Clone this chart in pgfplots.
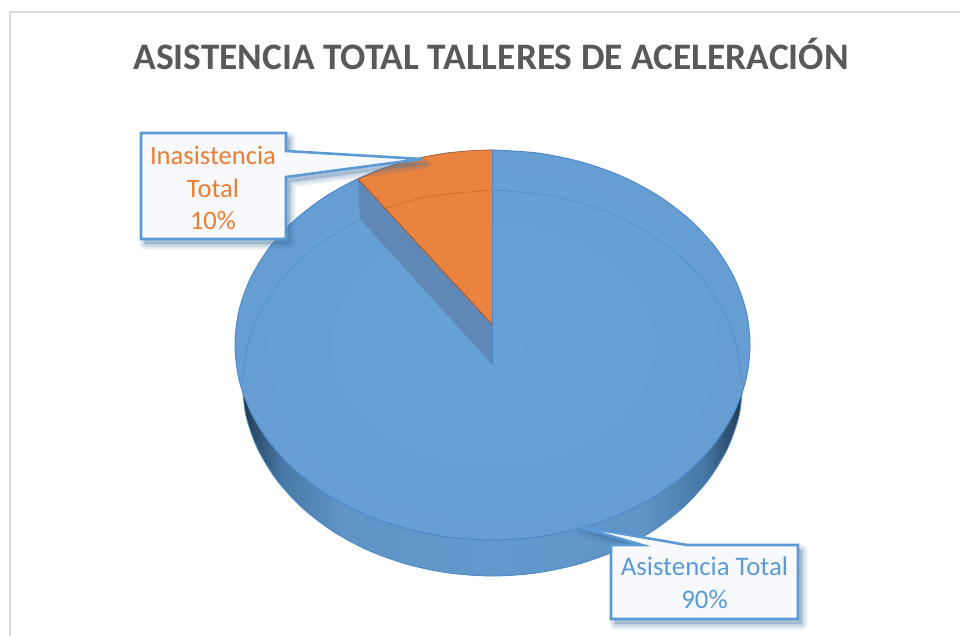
\documentclass[border=0pt]{standalone}
\usepackage{fontspec}
\setmainfont{Carlito}
\usepackage{pgfplots}
\usepackage{pgfplotstable}
\pgfplotsset{compat=1.18}

\definecolor{serieAzul}{HTML}{5B9BD5}
\definecolor{serieNaranja}{HTML}{ED7D31}
\definecolor{caraAzul}{HTML}{669FD4}
\definecolor{caraCentro}{HTML}{66A2D6}
\definecolor{caraFuera}{HTML}{669ED4}
\definecolor{caraNaranja}{HTML}{E9833F}
\definecolor{bordeAzul}{HTML}{4A8AC9}
\definecolor{paredOscura}{HTML}{6089B8}
\definecolor{marco}{HTML}{D9D9D9}
\definecolor{titulo}{HTML}{595959}
\definecolor{etiqueta}{HTML}{F7F9FD}

% lateral wall shading, dark at both ends of the pie
\pgfdeclarehorizontalshading{paredpie}{100bp}{
  color(0bp)=(black!75!serieAzul);
  color(25bp)=(black!72!serieAzul);
  color(26bp)=(black!52!serieAzul);
  color(29bp)=(black!22!serieAzul);
  color(35bp)=(black!7!caraAzul);
  color(50bp)=(black!4!caraAzul);
  color(65bp)=(black!7!caraAzul);
  color(71bp)=(black!22!serieAzul);
  color(74bp)=(black!52!serieAzul);
  color(75bp)=(black!72!serieAzul);
  color(100bp)=(black!75!serieAzul)}

% all tables in pixels of the picture, y downwards
\pgfplotstableread{
x y
492.5 150
537.2 153
580.6 161.8
621.3 176.1
658 195.6
689.8 219.7
715.5 247.5
734.5 278.3
746.1 311.1
750 345
746.1 378.9
734.5 411.7
715.5 442.5
689.8 470.3
658 494.4
621.3 513.9
580.6 528.2
537.2 537
492.5 540
447.8 537
404.4 528.2
363.7 513.9
327 494.4
295.2 470.3
269.5 442.5
250.5 411.7
238.9 378.9
235 345
238.9 311.1
250.5 278.3
269.5 247.5
295.2 219.7
327 195.6
363.7 176.1
404.4 161.8
447.8 153
492.5 150
}\caraPie

\pgfplotstableread{
x y
242 381
245.8 414.9
257.1 447.7
275.6 478.5
300.6 506.3
331.5 530.4
367.25 549.9
406.8 564.2
449 573
492.5 576
536 573
578.2 564.2
617.75 549.9
653.5 530.4
684.4 506.3
709.4 478.5
727.9 447.7
739.2 414.9
743 381
}\paredPie

% the 10 % slice
\pgfplotstableread{
x y
492.5 325
358 179
383.7 168.3
404.4 161.8
425.9 156.6
447.8 153
470.1 150.7
492.5 150
}\rebanada

% inner wall left open by the slice
\pgfplotstableread{
x y
358 179
360 219
492.5 365
492.5 325
}\hueco

\pgfplotstableread{
x y
492 190
556.7 196.6
617 216.1
668.8 247.1
708.5 287.5
733.5 334.5
742 385
}\bordeDer

\pgfplotstableread{
x y
360 219.5
315.2 247.1
275.5 287.5
250.5 334.5
242 385
}\bordeIzq

\pgfplotstableread{
x y
386.3 208.3
427.3 196.6
492 190
}\bordeNar

\pgfplotstableread{
x y
141 133
286 133
286 151
422 159
286 177
286 239
141 239
141 133
}\globoIzq

\pgfplotstableread{
x y
611 545
642 545
577 526
687 545
798 545
798 619
611 619
611 545
}\globoDer

\begin{document}
\begin{tikzpicture}
\begin{axis}[
    scale only axis,
    width=960pt,
    height=636pt,
    xmin=0, xmax=960,
    ymin=0, ymax=636,
    y dir=reverse,
    hide axis,
    clip=true,
]
% chart frame
\addplot[marco, line width=1.8pt, no marks] coordinates {(10,640) (10,12) (964,12)};

% pie
\addplot[draw=none, no marks, smooth, shading=paredpie] table {\paredPie} -- cycle;
\addplot[draw=bordeAzul, line width=0.9pt, no marks, smooth] table {\paredPie};
\addplot[draw=bordeAzul, line width=1pt, inner color=caraCentro, outer color=caraFuera, no marks, smooth] table {\caraPie};
\addplot[draw=none, fill=caraNaranja, no marks] table {\rebanada} -- cycle;
\addplot[draw=none, fill=paredOscura, no marks] table {\hueco} -- cycle;
\addplot[draw=black!40!caraNaranja, line width=0.7pt, no marks] coordinates {(358,179) (492.5,325)};
\addplot[draw=bordeAzul, line width=0.8pt, no marks] coordinates {(492.5,150) (492.5,365)};
\addplot[draw=black!25!caraNaranja, line width=0.7pt, no marks] table {\rebanada};
\addplot[draw=bordeAzul, line width=0.5pt, no marks, smooth] table {\bordeDer};
\addplot[draw=bordeAzul, line width=0.5pt, no marks, smooth] table {\bordeIzq};
\addplot[draw=serieNaranja!85!black, line width=0.5pt, no marks, smooth] table {\bordeNar};

% callout shadows
\pgfplotsinvokeforeach{11,8,5,2}{
  \addplot[draw=black!25!serieAzul, fill=black!25!serieAzul, opacity=0.09, line width=#1pt,
    line join=round, no marks]
    table[x expr=\thisrow{x}+4, y expr=\thisrow{y}+5] {\globoIzq};
  \addplot[draw=black!25!serieAzul, fill=black!25!serieAzul, opacity=0.09, line width=#1pt,
    line join=round, no marks]
    table[x expr=\thisrow{x}+4, y expr=\thisrow{y}+5] {\globoDer};
}

% callouts
\addplot[draw=serieAzul, fill=etiqueta, line width=2.6pt, line join=miter, no marks] table {\globoIzq} -- cycle;
\addplot[draw=serieAzul, fill=etiqueta, line width=2.6pt, line join=miter, no marks] table {\globoDer} -- cycle;

\node[text=titulo, font=\fontsize{37.4}{40}\selectfont\bfseries] at (axis cs:491,54)
  {ASISTENCIA TOTAL TALLERES DE ACELERACIÓN};
\node[text=serieNaranja, font=\fontsize{26.6}{32.5}\selectfont, align=center] at (axis cs:213,188)
  {Inasistencia\\Total\\10\%};
\node[text=serieAzul, font=\fontsize{26.8}{32.5}\selectfont, align=center] at (axis cs:704.5,583)
  {Asistencia Total\\90\%};
\end{axis}
\pgfresetboundingbox
\path[use as bounding box] (current axis.south west) rectangle (current axis.north east);
\end{tikzpicture}
\end{document}
